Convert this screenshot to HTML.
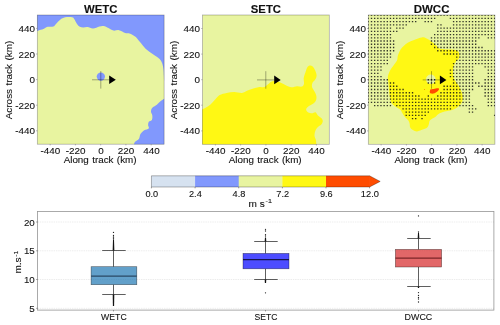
<!DOCTYPE html>
<html><head><meta charset="utf-8"><title>figure</title>
<style>
html,body{margin:0;padding:0;background:#fff;}
body{width:500px;height:325px;overflow:hidden;}
svg{display:block;font-family:"Liberation Sans",sans-serif;}
text{fill:#111;stroke:#111;stroke-width:0.1px;}
text{filter:grayscale(1);}
</style></head><body>
<svg width="500" height="325" viewBox="0 0 500 325">
<rect width="500" height="325" fill="#fff"/>
<defs>
<clipPath id="c0"><rect x="37.3" y="15.0" width="126.8" height="129.2"/></clipPath>
<clipPath id="c1"><rect x="202.4" y="15.0" width="126.9" height="129.3"/></clipPath>
<clipPath id="c2"><rect x="368.3" y="15.0" width="126.6" height="129.3"/></clipPath>
</defs>
<g clip-path="url(#c0)">
<rect x="37.3" y="15.0" width="126.8" height="129.2" fill="#e8f4a0"/>
<path d="M30.00,33.50 C31.25,33.07 35.27,31.63 37.50,30.90 C39.73,30.17 41.83,29.75 43.40,29.10 C44.97,28.45 45.27,27.42 46.90,27.00 C48.53,26.58 51.68,27.12 53.20,26.60 C54.72,26.08 54.83,25.05 56.00,23.90 C57.17,22.75 58.68,20.80 60.20,19.70 C61.72,18.60 63.12,17.72 65.10,17.30 C67.08,16.88 70.58,16.92 72.10,17.20 C73.62,17.48 73.38,17.88 74.20,19.00 C75.02,20.12 76.07,22.62 77.00,23.90 C77.93,25.18 78.75,26.12 79.80,26.70 C80.85,27.28 82.02,27.35 83.30,27.40 C84.58,27.45 85.87,26.82 87.50,27.00 C89.13,27.18 91.12,28.60 93.10,28.50 C95.08,28.40 97.65,26.82 99.40,26.40 C101.15,25.98 102.08,25.72 103.60,26.00 C105.12,26.28 106.87,27.33 108.50,28.10 C110.13,28.87 111.65,30.25 113.40,30.60 C115.15,30.95 117.02,29.80 119.00,30.20 C120.98,30.60 123.55,32.47 125.30,33.00 C127.05,33.53 127.75,32.75 129.50,33.40 C131.25,34.05 134.05,35.45 135.80,36.90 C137.55,38.35 138.37,40.13 140.00,42.10 C141.63,44.07 143.50,46.72 145.60,48.70 C147.70,50.68 150.27,52.27 152.60,54.00 C154.93,55.73 157.97,57.43 159.60,59.10 C161.23,60.77 161.75,62.25 162.40,64.00 C163.05,65.75 163.25,67.60 163.50,69.60 C163.75,71.60 163.78,74.27 163.90,76.00 C164.02,77.73 163.85,79.00 164.20,80.00 C164.55,81.00 165.70,81.67 166.00,82.00 L170,82 L170,5 L30,5 Z" fill="#8198fd"/>
<path d="M170.00,96.00 C169.05,96.45 165.88,97.83 164.30,98.70 C162.72,99.57 161.93,100.05 160.50,101.20 C159.07,102.35 157.13,104.43 155.70,105.60 C154.27,106.77 152.68,107.18 151.90,108.20 C151.12,109.22 150.93,110.48 151.00,111.70 C151.07,112.92 152.15,114.13 152.30,115.50 C152.45,116.87 152.45,118.88 151.90,119.90 C151.35,120.92 149.63,120.75 149.00,121.60 C148.37,122.45 148.15,123.87 148.10,125.00 C148.05,126.13 149.33,127.52 148.70,128.40 C148.07,129.28 145.67,129.35 144.30,130.30 C142.93,131.25 141.38,132.70 140.50,134.10 C139.62,135.50 139.95,137.37 139.00,138.70 C138.05,140.03 135.67,140.88 134.80,142.10 C133.93,143.32 134.10,144.68 133.80,146.00 C133.50,147.32 133.13,149.33 133.00,150.00 L170,150 Z" fill="#8198fd"/>
<circle cx="100.85" cy="76.6" r="4.15" fill="#8198fd"/>
</g>
<g clip-path="url(#c1)">
<rect x="202.4" y="15.0" width="126.9" height="129.3" fill="#e8f4a0"/>
<path d="M196.00,112.00 C197.07,111.55 200.73,110.03 202.40,109.30 C204.07,108.57 204.65,108.40 206.00,107.60 C207.35,106.80 208.93,105.90 210.50,104.50 C212.07,103.10 213.88,100.78 215.40,99.20 C216.92,97.62 217.73,96.05 219.60,95.00 C221.47,93.95 224.15,93.42 226.60,92.90 C229.05,92.38 231.73,91.90 234.30,91.90 C236.87,91.90 239.78,93.13 242.00,92.90 C244.22,92.67 245.27,91.37 247.60,90.50 C249.93,89.63 253.90,88.30 256.00,87.70 C258.10,87.10 258.80,87.02 260.20,86.90 C261.60,86.78 263.10,87.43 264.40,87.00 C265.70,86.57 266.88,85.18 268.00,84.30 C269.12,83.42 270.00,82.25 271.10,81.70 C272.20,81.15 273.08,80.88 274.60,81.00 C276.12,81.12 278.33,81.70 280.20,82.40 C282.07,83.10 283.93,84.38 285.80,85.20 C287.67,86.02 289.53,87.12 291.40,87.30 C293.27,87.48 295.25,86.42 297.00,86.30 C298.75,86.18 300.73,87.02 301.90,86.60 C303.07,86.18 303.70,85.20 304.00,83.80 C304.30,82.40 303.47,80.07 303.70,78.20 C303.93,76.33 304.83,74.35 305.40,72.60 C305.97,70.85 306.40,68.87 307.10,67.70 C307.80,66.53 308.72,65.83 309.60,65.60 C310.48,65.37 311.47,65.48 312.40,66.30 C313.33,67.12 314.50,68.98 315.20,70.50 C315.90,72.02 316.60,73.88 316.60,75.40 C316.60,76.92 315.90,78.32 315.20,79.60 C314.50,80.88 312.92,81.82 312.40,83.10 C311.88,84.38 311.75,85.90 312.10,87.30 C312.45,88.70 313.80,90.10 314.50,91.50 C315.20,92.90 316.03,94.28 316.30,95.70 C316.57,97.12 316.58,98.68 316.10,100.00 C315.62,101.32 314.70,102.52 313.40,103.60 C312.10,104.68 309.52,105.53 308.30,106.50 C307.08,107.47 306.15,108.43 306.10,109.40 C306.05,110.37 307.03,111.65 308.00,112.30 C308.97,112.95 310.65,113.30 311.90,113.30 C313.15,113.30 314.53,111.98 315.50,112.30 C316.47,112.62 316.73,114.23 317.70,115.20 C318.67,116.17 320.45,117.13 321.30,118.10 C322.15,119.07 322.80,119.92 322.80,121.00 C322.80,122.08 322.15,123.57 321.30,124.60 C320.45,125.63 318.67,126.23 317.70,127.20 C316.73,128.17 316.03,129.02 315.50,130.40 C314.97,131.78 314.45,133.93 314.50,135.50 C314.55,137.07 315.50,138.37 315.80,139.80 C316.10,141.23 316.18,142.40 316.30,144.10 C316.42,145.80 316.47,149.02 316.50,150.00 L190,150 L190,112 Z" fill="#fff814"/>
</g>
<g clip-path="url(#c2)">
<rect x="368.3" y="15.0" width="126.6" height="129.3" fill="#e8f4a0"/>
<path d="M421.80,37.40 C423.88,37.17 425.00,37.83 426.60,38.50 C428.20,39.17 429.80,40.25 431.40,41.40 C433.00,42.55 434.87,44.20 436.20,45.40 C437.53,46.60 437.80,47.93 439.40,48.60 C441.00,49.27 443.40,49.22 445.80,49.40 C448.20,49.58 451.80,49.43 453.80,49.70 C455.80,49.97 456.87,50.25 457.80,51.00 C458.73,51.75 459.27,52.87 459.40,54.20 C459.53,55.53 459.27,57.67 458.60,59.00 C457.93,60.33 456.25,60.87 455.40,62.20 C454.55,63.53 453.90,65.32 453.50,67.00 C453.10,68.68 452.87,70.25 453.00,72.30 C453.13,74.35 453.32,76.98 454.30,79.30 C455.28,81.62 457.57,83.70 458.90,86.20 C460.23,88.70 461.73,91.80 462.30,94.30 C462.87,96.80 463.07,99.08 462.30,101.20 C461.53,103.32 459.42,105.53 457.70,107.00 C455.98,108.47 454.20,109.23 452.00,110.00 C449.80,110.77 446.63,111.00 444.50,111.60 C442.37,112.20 440.73,112.72 439.20,113.60 C437.67,114.48 436.83,115.80 435.30,116.90 C433.77,118.00 431.10,118.88 430.00,120.20 C428.90,121.52 429.25,123.48 428.70,124.80 C428.15,126.12 427.92,127.22 426.70,128.10 C425.48,128.98 423.05,129.55 421.40,130.10 C419.75,130.65 418.22,131.40 416.80,131.40 C415.38,131.40 414.00,130.75 412.90,130.10 C411.80,129.45 410.75,128.60 410.20,127.50 C409.65,126.40 409.93,124.72 409.60,123.50 C409.27,122.28 408.98,121.30 408.20,120.20 C407.42,119.10 405.88,118.10 404.90,116.90 C403.92,115.70 403.05,114.20 402.30,113.00 C401.55,111.80 401.50,110.75 400.40,109.70 C399.30,108.65 397.18,107.82 395.70,106.70 C394.22,105.58 392.48,104.65 391.50,103.00 C390.52,101.35 390.20,98.93 389.80,96.80 C389.40,94.67 389.33,92.62 389.10,90.20 C388.87,87.78 388.62,84.50 388.40,82.30 C388.18,80.10 387.57,78.88 387.80,77.00 C388.03,75.12 388.93,72.80 389.80,71.00 C390.67,69.20 391.80,67.93 393.00,66.20 C394.20,64.47 396.20,62.33 397.00,60.60 C397.80,58.87 397.27,57.53 397.80,55.80 C398.33,54.07 399.30,51.73 400.20,50.20 C401.10,48.67 401.95,47.83 403.20,46.60 C404.45,45.37 405.88,43.92 407.70,42.80 C409.52,41.68 411.75,40.80 414.10,39.90 C416.45,39.00 419.72,37.63 421.80,37.40Z" fill="#fff814"/>
<circle cx="430.8" cy="79.3" r="4.8" fill="#e8f4a0"/>
<path d="M430.00,90.70 C430.17,90.18 430.18,89.60 430.80,89.30 C431.42,89.00 432.53,89.08 433.70,88.90 C434.87,88.72 436.90,88.18 437.80,88.20 C438.70,88.22 439.13,88.48 439.10,89.00 C439.07,89.52 438.35,90.60 437.60,91.30 C436.85,92.00 435.63,92.82 434.60,93.20 C433.57,93.58 432.20,93.73 431.40,93.60 C430.60,93.47 430.03,92.88 429.80,92.40 C429.57,91.92 429.83,91.22 430.00,90.70Z" fill="#ff4c00"/>
<circle cx="424.6" cy="89.5" r="0.45" fill="#ff4c00"/>
<path d="M367.68,14.52h1.35v1.35h-1.35zM370.83,14.52h1.35v1.35h-1.35zM373.99,14.52h1.35v1.35h-1.35zM377.15,14.52h1.35v1.35h-1.35zM380.30,14.52h1.35v1.35h-1.35zM383.46,14.52h1.35v1.35h-1.35zM386.62,14.52h1.35v1.35h-1.35zM389.77,14.52h1.35v1.35h-1.35zM392.93,14.52h1.35v1.35h-1.35zM396.09,14.52h1.35v1.35h-1.35zM399.25,14.52h1.35v1.35h-1.35zM402.40,14.52h1.35v1.35h-1.35zM405.56,14.52h1.35v1.35h-1.35zM408.72,14.52h1.35v1.35h-1.35zM411.87,14.52h1.35v1.35h-1.35zM415.03,14.52h1.35v1.35h-1.35zM418.19,14.52h1.35v1.35h-1.35zM421.34,14.52h1.35v1.35h-1.35zM424.50,14.52h1.35v1.35h-1.35zM427.66,14.52h1.35v1.35h-1.35zM430.81,14.52h1.35v1.35h-1.35zM433.97,14.52h1.35v1.35h-1.35zM437.13,14.52h1.35v1.35h-1.35zM440.29,14.52h1.35v1.35h-1.35zM443.44,14.52h1.35v1.35h-1.35zM446.60,14.52h1.35v1.35h-1.35zM449.76,14.52h1.35v1.35h-1.35zM452.91,14.52h1.35v1.35h-1.35zM456.07,14.52h1.35v1.35h-1.35zM459.23,14.52h1.35v1.35h-1.35zM462.39,14.52h1.35v1.35h-1.35zM465.54,14.52h1.35v1.35h-1.35zM468.70,14.52h1.35v1.35h-1.35zM471.86,14.52h1.35v1.35h-1.35zM475.01,14.52h1.35v1.35h-1.35zM478.17,14.52h1.35v1.35h-1.35zM481.33,14.52h1.35v1.35h-1.35zM484.48,14.52h1.35v1.35h-1.35zM487.64,14.52h1.35v1.35h-1.35zM490.80,14.52h1.35v1.35h-1.35zM493.95,14.52h1.35v1.35h-1.35zM367.68,17.75h1.35v1.35h-1.35zM370.83,17.75h1.35v1.35h-1.35zM373.99,17.75h1.35v1.35h-1.35zM377.15,17.75h1.35v1.35h-1.35zM380.30,17.75h1.35v1.35h-1.35zM383.46,17.75h1.35v1.35h-1.35zM386.62,17.75h1.35v1.35h-1.35zM389.77,17.75h1.35v1.35h-1.35zM392.93,17.75h1.35v1.35h-1.35zM396.09,17.75h1.35v1.35h-1.35zM399.25,17.75h1.35v1.35h-1.35zM402.40,17.75h1.35v1.35h-1.35zM405.56,17.75h1.35v1.35h-1.35zM408.72,17.75h1.35v1.35h-1.35zM411.87,17.75h1.35v1.35h-1.35zM415.03,17.75h1.35v1.35h-1.35zM418.19,17.75h1.35v1.35h-1.35zM421.34,17.75h1.35v1.35h-1.35zM424.50,17.75h1.35v1.35h-1.35zM427.66,17.75h1.35v1.35h-1.35zM430.81,17.75h1.35v1.35h-1.35zM433.97,17.75h1.35v1.35h-1.35zM449.76,17.75h1.35v1.35h-1.35zM452.91,17.75h1.35v1.35h-1.35zM456.07,17.75h1.35v1.35h-1.35zM459.23,17.75h1.35v1.35h-1.35zM462.39,17.75h1.35v1.35h-1.35zM465.54,17.75h1.35v1.35h-1.35zM468.70,17.75h1.35v1.35h-1.35zM471.86,17.75h1.35v1.35h-1.35zM475.01,17.75h1.35v1.35h-1.35zM478.17,17.75h1.35v1.35h-1.35zM481.33,17.75h1.35v1.35h-1.35zM484.48,17.75h1.35v1.35h-1.35zM487.64,17.75h1.35v1.35h-1.35zM490.80,17.75h1.35v1.35h-1.35zM493.95,17.75h1.35v1.35h-1.35zM367.68,20.98h1.35v1.35h-1.35zM370.83,20.98h1.35v1.35h-1.35zM373.99,20.98h1.35v1.35h-1.35zM377.15,20.98h1.35v1.35h-1.35zM380.30,20.98h1.35v1.35h-1.35zM383.46,20.98h1.35v1.35h-1.35zM386.62,20.98h1.35v1.35h-1.35zM389.77,20.98h1.35v1.35h-1.35zM392.93,20.98h1.35v1.35h-1.35zM396.09,20.98h1.35v1.35h-1.35zM399.25,20.98h1.35v1.35h-1.35zM402.40,20.98h1.35v1.35h-1.35zM405.56,20.98h1.35v1.35h-1.35zM408.72,20.98h1.35v1.35h-1.35zM411.87,20.98h1.35v1.35h-1.35zM415.03,20.98h1.35v1.35h-1.35zM424.50,20.98h1.35v1.35h-1.35zM427.66,20.98h1.35v1.35h-1.35zM430.81,20.98h1.35v1.35h-1.35zM452.91,20.98h1.35v1.35h-1.35zM456.07,20.98h1.35v1.35h-1.35zM459.23,20.98h1.35v1.35h-1.35zM462.39,20.98h1.35v1.35h-1.35zM465.54,20.98h1.35v1.35h-1.35zM468.70,20.98h1.35v1.35h-1.35zM471.86,20.98h1.35v1.35h-1.35zM475.01,20.98h1.35v1.35h-1.35zM478.17,20.98h1.35v1.35h-1.35zM481.33,20.98h1.35v1.35h-1.35zM484.48,20.98h1.35v1.35h-1.35zM487.64,20.98h1.35v1.35h-1.35zM490.80,20.98h1.35v1.35h-1.35zM493.95,20.98h1.35v1.35h-1.35zM367.68,24.21h1.35v1.35h-1.35zM370.83,24.21h1.35v1.35h-1.35zM373.99,24.21h1.35v1.35h-1.35zM377.15,24.21h1.35v1.35h-1.35zM380.30,24.21h1.35v1.35h-1.35zM383.46,24.21h1.35v1.35h-1.35zM386.62,24.21h1.35v1.35h-1.35zM389.77,24.21h1.35v1.35h-1.35zM392.93,24.21h1.35v1.35h-1.35zM396.09,24.21h1.35v1.35h-1.35zM399.25,24.21h1.35v1.35h-1.35zM402.40,24.21h1.35v1.35h-1.35zM405.56,24.21h1.35v1.35h-1.35zM437.13,24.21h1.35v1.35h-1.35zM440.29,24.21h1.35v1.35h-1.35zM452.91,24.21h1.35v1.35h-1.35zM456.07,24.21h1.35v1.35h-1.35zM459.23,24.21h1.35v1.35h-1.35zM462.39,24.21h1.35v1.35h-1.35zM465.54,24.21h1.35v1.35h-1.35zM468.70,24.21h1.35v1.35h-1.35zM471.86,24.21h1.35v1.35h-1.35zM475.01,24.21h1.35v1.35h-1.35zM478.17,24.21h1.35v1.35h-1.35zM481.33,24.21h1.35v1.35h-1.35zM484.48,24.21h1.35v1.35h-1.35zM487.64,24.21h1.35v1.35h-1.35zM490.80,24.21h1.35v1.35h-1.35zM493.95,24.21h1.35v1.35h-1.35zM367.68,27.44h1.35v1.35h-1.35zM370.83,27.44h1.35v1.35h-1.35zM373.99,27.44h1.35v1.35h-1.35zM377.15,27.44h1.35v1.35h-1.35zM380.30,27.44h1.35v1.35h-1.35zM383.46,27.44h1.35v1.35h-1.35zM386.62,27.44h1.35v1.35h-1.35zM389.77,27.44h1.35v1.35h-1.35zM396.09,27.44h1.35v1.35h-1.35zM399.25,27.44h1.35v1.35h-1.35zM402.40,27.44h1.35v1.35h-1.35zM437.13,27.44h1.35v1.35h-1.35zM440.29,27.44h1.35v1.35h-1.35zM443.44,27.44h1.35v1.35h-1.35zM446.60,27.44h1.35v1.35h-1.35zM449.76,27.44h1.35v1.35h-1.35zM452.91,27.44h1.35v1.35h-1.35zM456.07,27.44h1.35v1.35h-1.35zM459.23,27.44h1.35v1.35h-1.35zM462.39,27.44h1.35v1.35h-1.35zM465.54,27.44h1.35v1.35h-1.35zM468.70,27.44h1.35v1.35h-1.35zM471.86,27.44h1.35v1.35h-1.35zM475.01,27.44h1.35v1.35h-1.35zM478.17,27.44h1.35v1.35h-1.35zM481.33,27.44h1.35v1.35h-1.35zM484.48,27.44h1.35v1.35h-1.35zM487.64,27.44h1.35v1.35h-1.35zM490.80,27.44h1.35v1.35h-1.35zM493.95,27.44h1.35v1.35h-1.35zM367.68,30.67h1.35v1.35h-1.35zM370.83,30.67h1.35v1.35h-1.35zM373.99,30.67h1.35v1.35h-1.35zM377.15,30.67h1.35v1.35h-1.35zM380.30,30.67h1.35v1.35h-1.35zM383.46,30.67h1.35v1.35h-1.35zM386.62,30.67h1.35v1.35h-1.35zM389.77,30.67h1.35v1.35h-1.35zM392.93,30.67h1.35v1.35h-1.35zM396.09,30.67h1.35v1.35h-1.35zM437.13,30.67h1.35v1.35h-1.35zM440.29,30.67h1.35v1.35h-1.35zM443.44,30.67h1.35v1.35h-1.35zM446.60,30.67h1.35v1.35h-1.35zM449.76,30.67h1.35v1.35h-1.35zM452.91,30.67h1.35v1.35h-1.35zM456.07,30.67h1.35v1.35h-1.35zM459.23,30.67h1.35v1.35h-1.35zM462.39,30.67h1.35v1.35h-1.35zM465.54,30.67h1.35v1.35h-1.35zM468.70,30.67h1.35v1.35h-1.35zM471.86,30.67h1.35v1.35h-1.35zM475.01,30.67h1.35v1.35h-1.35zM478.17,30.67h1.35v1.35h-1.35zM481.33,30.67h1.35v1.35h-1.35zM484.48,30.67h1.35v1.35h-1.35zM487.64,30.67h1.35v1.35h-1.35zM490.80,30.67h1.35v1.35h-1.35zM493.95,30.67h1.35v1.35h-1.35zM367.68,33.91h1.35v1.35h-1.35zM370.83,33.91h1.35v1.35h-1.35zM373.99,33.91h1.35v1.35h-1.35zM377.15,33.91h1.35v1.35h-1.35zM380.30,33.91h1.35v1.35h-1.35zM383.46,33.91h1.35v1.35h-1.35zM386.62,33.91h1.35v1.35h-1.35zM389.77,33.91h1.35v1.35h-1.35zM433.97,33.91h1.35v1.35h-1.35zM437.13,33.91h1.35v1.35h-1.35zM440.29,33.91h1.35v1.35h-1.35zM443.44,33.91h1.35v1.35h-1.35zM446.60,33.91h1.35v1.35h-1.35zM449.76,33.91h1.35v1.35h-1.35zM452.91,33.91h1.35v1.35h-1.35zM456.07,33.91h1.35v1.35h-1.35zM459.23,33.91h1.35v1.35h-1.35zM462.39,33.91h1.35v1.35h-1.35zM465.54,33.91h1.35v1.35h-1.35zM468.70,33.91h1.35v1.35h-1.35zM471.86,33.91h1.35v1.35h-1.35zM475.01,33.91h1.35v1.35h-1.35zM478.17,33.91h1.35v1.35h-1.35zM481.33,33.91h1.35v1.35h-1.35zM484.48,33.91h1.35v1.35h-1.35zM487.64,33.91h1.35v1.35h-1.35zM490.80,33.91h1.35v1.35h-1.35zM493.95,33.91h1.35v1.35h-1.35zM367.68,37.14h1.35v1.35h-1.35zM370.83,37.14h1.35v1.35h-1.35zM373.99,37.14h1.35v1.35h-1.35zM377.15,37.14h1.35v1.35h-1.35zM380.30,37.14h1.35v1.35h-1.35zM383.46,37.14h1.35v1.35h-1.35zM386.62,37.14h1.35v1.35h-1.35zM389.77,37.14h1.35v1.35h-1.35zM430.81,37.14h1.35v1.35h-1.35zM433.97,37.14h1.35v1.35h-1.35zM437.13,37.14h1.35v1.35h-1.35zM440.29,37.14h1.35v1.35h-1.35zM443.44,37.14h1.35v1.35h-1.35zM446.60,37.14h1.35v1.35h-1.35zM449.76,37.14h1.35v1.35h-1.35zM452.91,37.14h1.35v1.35h-1.35zM456.07,37.14h1.35v1.35h-1.35zM459.23,37.14h1.35v1.35h-1.35zM462.39,37.14h1.35v1.35h-1.35zM465.54,37.14h1.35v1.35h-1.35zM468.70,37.14h1.35v1.35h-1.35zM471.86,37.14h1.35v1.35h-1.35zM475.01,37.14h1.35v1.35h-1.35zM478.17,37.14h1.35v1.35h-1.35zM487.64,37.14h1.35v1.35h-1.35zM490.80,37.14h1.35v1.35h-1.35zM493.95,37.14h1.35v1.35h-1.35zM367.68,40.37h1.35v1.35h-1.35zM370.83,40.37h1.35v1.35h-1.35zM373.99,40.37h1.35v1.35h-1.35zM377.15,40.37h1.35v1.35h-1.35zM380.30,40.37h1.35v1.35h-1.35zM383.46,40.37h1.35v1.35h-1.35zM386.62,40.37h1.35v1.35h-1.35zM389.77,40.37h1.35v1.35h-1.35zM392.93,40.37h1.35v1.35h-1.35zM430.81,40.37h1.35v1.35h-1.35zM433.97,40.37h1.35v1.35h-1.35zM437.13,40.37h1.35v1.35h-1.35zM440.29,40.37h1.35v1.35h-1.35zM443.44,40.37h1.35v1.35h-1.35zM446.60,40.37h1.35v1.35h-1.35zM449.76,40.37h1.35v1.35h-1.35zM452.91,40.37h1.35v1.35h-1.35zM456.07,40.37h1.35v1.35h-1.35zM459.23,40.37h1.35v1.35h-1.35zM462.39,40.37h1.35v1.35h-1.35zM465.54,40.37h1.35v1.35h-1.35zM468.70,40.37h1.35v1.35h-1.35zM471.86,40.37h1.35v1.35h-1.35zM475.01,40.37h1.35v1.35h-1.35zM367.68,43.59h1.35v1.35h-1.35zM370.83,43.59h1.35v1.35h-1.35zM373.99,43.59h1.35v1.35h-1.35zM377.15,43.59h1.35v1.35h-1.35zM380.30,43.59h1.35v1.35h-1.35zM383.46,43.59h1.35v1.35h-1.35zM386.62,43.59h1.35v1.35h-1.35zM389.77,43.59h1.35v1.35h-1.35zM392.93,43.59h1.35v1.35h-1.35zM430.81,43.59h1.35v1.35h-1.35zM433.97,43.59h1.35v1.35h-1.35zM437.13,43.59h1.35v1.35h-1.35zM440.29,43.59h1.35v1.35h-1.35zM443.44,43.59h1.35v1.35h-1.35zM446.60,43.59h1.35v1.35h-1.35zM449.76,43.59h1.35v1.35h-1.35zM452.91,43.59h1.35v1.35h-1.35zM456.07,43.59h1.35v1.35h-1.35zM459.23,43.59h1.35v1.35h-1.35zM462.39,43.59h1.35v1.35h-1.35zM465.54,43.59h1.35v1.35h-1.35zM468.70,43.59h1.35v1.35h-1.35zM471.86,43.59h1.35v1.35h-1.35zM475.01,43.59h1.35v1.35h-1.35zM367.68,46.83h1.35v1.35h-1.35zM370.83,46.83h1.35v1.35h-1.35zM373.99,46.83h1.35v1.35h-1.35zM377.15,46.83h1.35v1.35h-1.35zM380.30,46.83h1.35v1.35h-1.35zM383.46,46.83h1.35v1.35h-1.35zM386.62,46.83h1.35v1.35h-1.35zM389.77,46.83h1.35v1.35h-1.35zM392.93,46.83h1.35v1.35h-1.35zM433.97,46.83h1.35v1.35h-1.35zM437.13,46.83h1.35v1.35h-1.35zM440.29,46.83h1.35v1.35h-1.35zM443.44,46.83h1.35v1.35h-1.35zM446.60,46.83h1.35v1.35h-1.35zM449.76,46.83h1.35v1.35h-1.35zM452.91,46.83h1.35v1.35h-1.35zM456.07,46.83h1.35v1.35h-1.35zM459.23,46.83h1.35v1.35h-1.35zM462.39,46.83h1.35v1.35h-1.35zM465.54,46.83h1.35v1.35h-1.35zM468.70,46.83h1.35v1.35h-1.35zM471.86,46.83h1.35v1.35h-1.35zM475.01,46.83h1.35v1.35h-1.35zM478.17,46.83h1.35v1.35h-1.35zM481.33,46.83h1.35v1.35h-1.35zM367.68,50.06h1.35v1.35h-1.35zM370.83,50.06h1.35v1.35h-1.35zM373.99,50.06h1.35v1.35h-1.35zM377.15,50.06h1.35v1.35h-1.35zM380.30,50.06h1.35v1.35h-1.35zM383.46,50.06h1.35v1.35h-1.35zM386.62,50.06h1.35v1.35h-1.35zM389.77,50.06h1.35v1.35h-1.35zM392.93,50.06h1.35v1.35h-1.35zM437.13,50.06h1.35v1.35h-1.35zM440.29,50.06h1.35v1.35h-1.35zM443.44,50.06h1.35v1.35h-1.35zM446.60,50.06h1.35v1.35h-1.35zM449.76,50.06h1.35v1.35h-1.35zM452.91,50.06h1.35v1.35h-1.35zM456.07,50.06h1.35v1.35h-1.35zM459.23,50.06h1.35v1.35h-1.35zM462.39,50.06h1.35v1.35h-1.35zM465.54,50.06h1.35v1.35h-1.35zM468.70,50.06h1.35v1.35h-1.35zM471.86,50.06h1.35v1.35h-1.35zM475.01,50.06h1.35v1.35h-1.35zM478.17,50.06h1.35v1.35h-1.35zM481.33,50.06h1.35v1.35h-1.35zM484.48,50.06h1.35v1.35h-1.35zM487.64,50.06h1.35v1.35h-1.35zM490.80,50.06h1.35v1.35h-1.35zM493.95,50.06h1.35v1.35h-1.35zM367.68,53.28h1.35v1.35h-1.35zM370.83,53.28h1.35v1.35h-1.35zM373.99,53.28h1.35v1.35h-1.35zM377.15,53.28h1.35v1.35h-1.35zM380.30,53.28h1.35v1.35h-1.35zM383.46,53.28h1.35v1.35h-1.35zM386.62,53.28h1.35v1.35h-1.35zM389.77,53.28h1.35v1.35h-1.35zM443.44,53.28h1.35v1.35h-1.35zM446.60,53.28h1.35v1.35h-1.35zM449.76,53.28h1.35v1.35h-1.35zM452.91,53.28h1.35v1.35h-1.35zM456.07,53.28h1.35v1.35h-1.35zM459.23,53.28h1.35v1.35h-1.35zM462.39,53.28h1.35v1.35h-1.35zM465.54,53.28h1.35v1.35h-1.35zM468.70,53.28h1.35v1.35h-1.35zM471.86,53.28h1.35v1.35h-1.35zM475.01,53.28h1.35v1.35h-1.35zM478.17,53.28h1.35v1.35h-1.35zM481.33,53.28h1.35v1.35h-1.35zM484.48,53.28h1.35v1.35h-1.35zM487.64,53.28h1.35v1.35h-1.35zM490.80,53.28h1.35v1.35h-1.35zM493.95,53.28h1.35v1.35h-1.35zM367.68,56.52h1.35v1.35h-1.35zM370.83,56.52h1.35v1.35h-1.35zM373.99,56.52h1.35v1.35h-1.35zM377.15,56.52h1.35v1.35h-1.35zM380.30,56.52h1.35v1.35h-1.35zM383.46,56.52h1.35v1.35h-1.35zM386.62,56.52h1.35v1.35h-1.35zM389.77,56.52h1.35v1.35h-1.35zM456.07,56.52h1.35v1.35h-1.35zM459.23,56.52h1.35v1.35h-1.35zM462.39,56.52h1.35v1.35h-1.35zM465.54,56.52h1.35v1.35h-1.35zM468.70,56.52h1.35v1.35h-1.35zM471.86,56.52h1.35v1.35h-1.35zM475.01,56.52h1.35v1.35h-1.35zM478.17,56.52h1.35v1.35h-1.35zM481.33,56.52h1.35v1.35h-1.35zM484.48,56.52h1.35v1.35h-1.35zM487.64,56.52h1.35v1.35h-1.35zM490.80,56.52h1.35v1.35h-1.35zM493.95,56.52h1.35v1.35h-1.35zM367.68,59.75h1.35v1.35h-1.35zM370.83,59.75h1.35v1.35h-1.35zM373.99,59.75h1.35v1.35h-1.35zM377.15,59.75h1.35v1.35h-1.35zM380.30,59.75h1.35v1.35h-1.35zM383.46,59.75h1.35v1.35h-1.35zM386.62,59.75h1.35v1.35h-1.35zM456.07,59.75h1.35v1.35h-1.35zM459.23,59.75h1.35v1.35h-1.35zM462.39,59.75h1.35v1.35h-1.35zM465.54,59.75h1.35v1.35h-1.35zM468.70,59.75h1.35v1.35h-1.35zM471.86,59.75h1.35v1.35h-1.35zM475.01,59.75h1.35v1.35h-1.35zM478.17,59.75h1.35v1.35h-1.35zM481.33,59.75h1.35v1.35h-1.35zM484.48,59.75h1.35v1.35h-1.35zM487.64,59.75h1.35v1.35h-1.35zM490.80,59.75h1.35v1.35h-1.35zM493.95,59.75h1.35v1.35h-1.35zM367.68,62.98h1.35v1.35h-1.35zM370.83,62.98h1.35v1.35h-1.35zM373.99,62.98h1.35v1.35h-1.35zM377.15,62.98h1.35v1.35h-1.35zM380.30,62.98h1.35v1.35h-1.35zM383.46,62.98h1.35v1.35h-1.35zM386.62,62.98h1.35v1.35h-1.35zM452.91,62.98h1.35v1.35h-1.35zM456.07,62.98h1.35v1.35h-1.35zM459.23,62.98h1.35v1.35h-1.35zM462.39,62.98h1.35v1.35h-1.35zM465.54,62.98h1.35v1.35h-1.35zM468.70,62.98h1.35v1.35h-1.35zM471.86,62.98h1.35v1.35h-1.35zM475.01,62.98h1.35v1.35h-1.35zM478.17,62.98h1.35v1.35h-1.35zM481.33,62.98h1.35v1.35h-1.35zM484.48,62.98h1.35v1.35h-1.35zM487.64,62.98h1.35v1.35h-1.35zM490.80,62.98h1.35v1.35h-1.35zM493.95,62.98h1.35v1.35h-1.35zM367.68,66.20h1.35v1.35h-1.35zM370.83,66.20h1.35v1.35h-1.35zM373.99,66.20h1.35v1.35h-1.35zM377.15,66.20h1.35v1.35h-1.35zM380.30,66.20h1.35v1.35h-1.35zM452.91,66.20h1.35v1.35h-1.35zM456.07,66.20h1.35v1.35h-1.35zM459.23,66.20h1.35v1.35h-1.35zM462.39,66.20h1.35v1.35h-1.35zM465.54,66.20h1.35v1.35h-1.35zM468.70,66.20h1.35v1.35h-1.35zM471.86,66.20h1.35v1.35h-1.35zM484.48,66.20h1.35v1.35h-1.35zM487.64,66.20h1.35v1.35h-1.35zM490.80,66.20h1.35v1.35h-1.35zM493.95,66.20h1.35v1.35h-1.35zM367.68,69.44h1.35v1.35h-1.35zM370.83,69.44h1.35v1.35h-1.35zM373.99,69.44h1.35v1.35h-1.35zM377.15,69.44h1.35v1.35h-1.35zM380.30,69.44h1.35v1.35h-1.35zM449.76,69.44h1.35v1.35h-1.35zM452.91,69.44h1.35v1.35h-1.35zM456.07,69.44h1.35v1.35h-1.35zM459.23,69.44h1.35v1.35h-1.35zM462.39,69.44h1.35v1.35h-1.35zM465.54,69.44h1.35v1.35h-1.35zM468.70,69.44h1.35v1.35h-1.35zM471.86,69.44h1.35v1.35h-1.35zM487.64,69.44h1.35v1.35h-1.35zM490.80,69.44h1.35v1.35h-1.35zM493.95,69.44h1.35v1.35h-1.35zM367.68,72.67h1.35v1.35h-1.35zM370.83,72.67h1.35v1.35h-1.35zM373.99,72.67h1.35v1.35h-1.35zM377.15,72.67h1.35v1.35h-1.35zM449.76,72.67h1.35v1.35h-1.35zM452.91,72.67h1.35v1.35h-1.35zM456.07,72.67h1.35v1.35h-1.35zM459.23,72.67h1.35v1.35h-1.35zM462.39,72.67h1.35v1.35h-1.35zM465.54,72.67h1.35v1.35h-1.35zM468.70,72.67h1.35v1.35h-1.35zM471.86,72.67h1.35v1.35h-1.35zM487.64,72.67h1.35v1.35h-1.35zM490.80,72.67h1.35v1.35h-1.35zM493.95,72.67h1.35v1.35h-1.35zM367.68,75.89h1.35v1.35h-1.35zM370.83,75.89h1.35v1.35h-1.35zM373.99,75.89h1.35v1.35h-1.35zM377.15,75.89h1.35v1.35h-1.35zM380.30,75.89h1.35v1.35h-1.35zM449.76,75.89h1.35v1.35h-1.35zM452.91,75.89h1.35v1.35h-1.35zM456.07,75.89h1.35v1.35h-1.35zM459.23,75.89h1.35v1.35h-1.35zM462.39,75.89h1.35v1.35h-1.35zM465.54,75.89h1.35v1.35h-1.35zM468.70,75.89h1.35v1.35h-1.35zM471.86,75.89h1.35v1.35h-1.35zM487.64,75.89h1.35v1.35h-1.35zM490.80,75.89h1.35v1.35h-1.35zM493.95,75.89h1.35v1.35h-1.35zM367.68,79.12h1.35v1.35h-1.35zM370.83,79.12h1.35v1.35h-1.35zM373.99,79.12h1.35v1.35h-1.35zM377.15,79.12h1.35v1.35h-1.35zM380.30,79.12h1.35v1.35h-1.35zM383.46,79.12h1.35v1.35h-1.35zM386.62,79.12h1.35v1.35h-1.35zM427.66,79.12h1.35v1.35h-1.35zM430.81,79.12h1.35v1.35h-1.35zM433.97,79.12h1.35v1.35h-1.35zM452.91,79.12h1.35v1.35h-1.35zM456.07,79.12h1.35v1.35h-1.35zM459.23,79.12h1.35v1.35h-1.35zM462.39,79.12h1.35v1.35h-1.35zM465.54,79.12h1.35v1.35h-1.35zM468.70,79.12h1.35v1.35h-1.35zM471.86,79.12h1.35v1.35h-1.35zM484.48,79.12h1.35v1.35h-1.35zM487.64,79.12h1.35v1.35h-1.35zM490.80,79.12h1.35v1.35h-1.35zM493.95,79.12h1.35v1.35h-1.35zM367.68,82.36h1.35v1.35h-1.35zM370.83,82.36h1.35v1.35h-1.35zM373.99,82.36h1.35v1.35h-1.35zM377.15,82.36h1.35v1.35h-1.35zM380.30,82.36h1.35v1.35h-1.35zM383.46,82.36h1.35v1.35h-1.35zM386.62,82.36h1.35v1.35h-1.35zM389.77,82.36h1.35v1.35h-1.35zM392.93,82.36h1.35v1.35h-1.35zM427.66,82.36h1.35v1.35h-1.35zM430.81,82.36h1.35v1.35h-1.35zM433.97,82.36h1.35v1.35h-1.35zM452.91,82.36h1.35v1.35h-1.35zM456.07,82.36h1.35v1.35h-1.35zM459.23,82.36h1.35v1.35h-1.35zM462.39,82.36h1.35v1.35h-1.35zM465.54,82.36h1.35v1.35h-1.35zM468.70,82.36h1.35v1.35h-1.35zM471.86,82.36h1.35v1.35h-1.35zM475.01,82.36h1.35v1.35h-1.35zM478.17,82.36h1.35v1.35h-1.35zM484.48,82.36h1.35v1.35h-1.35zM487.64,82.36h1.35v1.35h-1.35zM490.80,82.36h1.35v1.35h-1.35zM493.95,82.36h1.35v1.35h-1.35zM367.68,85.59h1.35v1.35h-1.35zM370.83,85.59h1.35v1.35h-1.35zM373.99,85.59h1.35v1.35h-1.35zM377.15,85.59h1.35v1.35h-1.35zM380.30,85.59h1.35v1.35h-1.35zM383.46,85.59h1.35v1.35h-1.35zM386.62,85.59h1.35v1.35h-1.35zM389.77,85.59h1.35v1.35h-1.35zM392.93,85.59h1.35v1.35h-1.35zM396.09,85.59h1.35v1.35h-1.35zM443.44,85.59h1.35v1.35h-1.35zM446.60,85.59h1.35v1.35h-1.35zM449.76,85.59h1.35v1.35h-1.35zM452.91,85.59h1.35v1.35h-1.35zM456.07,85.59h1.35v1.35h-1.35zM459.23,85.59h1.35v1.35h-1.35zM462.39,85.59h1.35v1.35h-1.35zM465.54,85.59h1.35v1.35h-1.35zM468.70,85.59h1.35v1.35h-1.35zM471.86,85.59h1.35v1.35h-1.35zM478.17,85.59h1.35v1.35h-1.35zM481.33,85.59h1.35v1.35h-1.35zM484.48,85.59h1.35v1.35h-1.35zM487.64,85.59h1.35v1.35h-1.35zM490.80,85.59h1.35v1.35h-1.35zM493.95,85.59h1.35v1.35h-1.35zM367.68,88.82h1.35v1.35h-1.35zM370.83,88.82h1.35v1.35h-1.35zM373.99,88.82h1.35v1.35h-1.35zM377.15,88.82h1.35v1.35h-1.35zM380.30,88.82h1.35v1.35h-1.35zM383.46,88.82h1.35v1.35h-1.35zM386.62,88.82h1.35v1.35h-1.35zM389.77,88.82h1.35v1.35h-1.35zM392.93,88.82h1.35v1.35h-1.35zM396.09,88.82h1.35v1.35h-1.35zM399.25,88.82h1.35v1.35h-1.35zM402.40,88.82h1.35v1.35h-1.35zM443.44,88.82h1.35v1.35h-1.35zM446.60,88.82h1.35v1.35h-1.35zM449.76,88.82h1.35v1.35h-1.35zM452.91,88.82h1.35v1.35h-1.35zM456.07,88.82h1.35v1.35h-1.35zM459.23,88.82h1.35v1.35h-1.35zM462.39,88.82h1.35v1.35h-1.35zM465.54,88.82h1.35v1.35h-1.35zM468.70,88.82h1.35v1.35h-1.35zM471.86,88.82h1.35v1.35h-1.35zM484.48,88.82h1.35v1.35h-1.35zM487.64,88.82h1.35v1.35h-1.35zM490.80,88.82h1.35v1.35h-1.35zM493.95,88.82h1.35v1.35h-1.35zM367.68,92.05h1.35v1.35h-1.35zM370.83,92.05h1.35v1.35h-1.35zM373.99,92.05h1.35v1.35h-1.35zM377.15,92.05h1.35v1.35h-1.35zM380.30,92.05h1.35v1.35h-1.35zM383.46,92.05h1.35v1.35h-1.35zM386.62,92.05h1.35v1.35h-1.35zM389.77,92.05h1.35v1.35h-1.35zM392.93,92.05h1.35v1.35h-1.35zM396.09,92.05h1.35v1.35h-1.35zM399.25,92.05h1.35v1.35h-1.35zM402.40,92.05h1.35v1.35h-1.35zM405.56,92.05h1.35v1.35h-1.35zM408.72,92.05h1.35v1.35h-1.35zM411.87,92.05h1.35v1.35h-1.35zM440.29,92.05h1.35v1.35h-1.35zM443.44,92.05h1.35v1.35h-1.35zM446.60,92.05h1.35v1.35h-1.35zM449.76,92.05h1.35v1.35h-1.35zM452.91,92.05h1.35v1.35h-1.35zM456.07,92.05h1.35v1.35h-1.35zM459.23,92.05h1.35v1.35h-1.35zM462.39,92.05h1.35v1.35h-1.35zM465.54,92.05h1.35v1.35h-1.35zM468.70,92.05h1.35v1.35h-1.35zM484.48,92.05h1.35v1.35h-1.35zM487.64,92.05h1.35v1.35h-1.35zM490.80,92.05h1.35v1.35h-1.35zM493.95,92.05h1.35v1.35h-1.35zM367.68,95.28h1.35v1.35h-1.35zM370.83,95.28h1.35v1.35h-1.35zM373.99,95.28h1.35v1.35h-1.35zM377.15,95.28h1.35v1.35h-1.35zM380.30,95.28h1.35v1.35h-1.35zM383.46,95.28h1.35v1.35h-1.35zM386.62,95.28h1.35v1.35h-1.35zM389.77,95.28h1.35v1.35h-1.35zM392.93,95.28h1.35v1.35h-1.35zM396.09,95.28h1.35v1.35h-1.35zM399.25,95.28h1.35v1.35h-1.35zM402.40,95.28h1.35v1.35h-1.35zM405.56,95.28h1.35v1.35h-1.35zM408.72,95.28h1.35v1.35h-1.35zM411.87,95.28h1.35v1.35h-1.35zM415.03,95.28h1.35v1.35h-1.35zM418.19,95.28h1.35v1.35h-1.35zM427.66,95.28h1.35v1.35h-1.35zM437.13,95.28h1.35v1.35h-1.35zM440.29,95.28h1.35v1.35h-1.35zM443.44,95.28h1.35v1.35h-1.35zM446.60,95.28h1.35v1.35h-1.35zM449.76,95.28h1.35v1.35h-1.35zM452.91,95.28h1.35v1.35h-1.35zM456.07,95.28h1.35v1.35h-1.35zM459.23,95.28h1.35v1.35h-1.35zM462.39,95.28h1.35v1.35h-1.35zM465.54,95.28h1.35v1.35h-1.35zM468.70,95.28h1.35v1.35h-1.35zM484.48,95.28h1.35v1.35h-1.35zM487.64,95.28h1.35v1.35h-1.35zM490.80,95.28h1.35v1.35h-1.35zM493.95,95.28h1.35v1.35h-1.35zM367.68,98.51h1.35v1.35h-1.35zM370.83,98.51h1.35v1.35h-1.35zM373.99,98.51h1.35v1.35h-1.35zM377.15,98.51h1.35v1.35h-1.35zM380.30,98.51h1.35v1.35h-1.35zM383.46,98.51h1.35v1.35h-1.35zM386.62,98.51h1.35v1.35h-1.35zM389.77,98.51h1.35v1.35h-1.35zM392.93,98.51h1.35v1.35h-1.35zM396.09,98.51h1.35v1.35h-1.35zM399.25,98.51h1.35v1.35h-1.35zM402.40,98.51h1.35v1.35h-1.35zM405.56,98.51h1.35v1.35h-1.35zM408.72,98.51h1.35v1.35h-1.35zM411.87,98.51h1.35v1.35h-1.35zM415.03,98.51h1.35v1.35h-1.35zM418.19,98.51h1.35v1.35h-1.35zM421.34,98.51h1.35v1.35h-1.35zM424.50,98.51h1.35v1.35h-1.35zM427.66,98.51h1.35v1.35h-1.35zM430.81,98.51h1.35v1.35h-1.35zM433.97,98.51h1.35v1.35h-1.35zM437.13,98.51h1.35v1.35h-1.35zM440.29,98.51h1.35v1.35h-1.35zM443.44,98.51h1.35v1.35h-1.35zM446.60,98.51h1.35v1.35h-1.35zM449.76,98.51h1.35v1.35h-1.35zM452.91,98.51h1.35v1.35h-1.35zM456.07,98.51h1.35v1.35h-1.35zM459.23,98.51h1.35v1.35h-1.35zM462.39,98.51h1.35v1.35h-1.35zM465.54,98.51h1.35v1.35h-1.35zM468.70,98.51h1.35v1.35h-1.35zM487.64,98.51h1.35v1.35h-1.35zM490.80,98.51h1.35v1.35h-1.35zM493.95,98.51h1.35v1.35h-1.35zM367.68,101.73h1.35v1.35h-1.35zM370.83,101.73h1.35v1.35h-1.35zM373.99,101.73h1.35v1.35h-1.35zM377.15,101.73h1.35v1.35h-1.35zM380.30,101.73h1.35v1.35h-1.35zM383.46,101.73h1.35v1.35h-1.35zM386.62,101.73h1.35v1.35h-1.35zM389.77,101.73h1.35v1.35h-1.35zM392.93,101.73h1.35v1.35h-1.35zM396.09,101.73h1.35v1.35h-1.35zM399.25,101.73h1.35v1.35h-1.35zM402.40,101.73h1.35v1.35h-1.35zM405.56,101.73h1.35v1.35h-1.35zM408.72,101.73h1.35v1.35h-1.35zM411.87,101.73h1.35v1.35h-1.35zM415.03,101.73h1.35v1.35h-1.35zM418.19,101.73h1.35v1.35h-1.35zM421.34,101.73h1.35v1.35h-1.35zM424.50,101.73h1.35v1.35h-1.35zM427.66,101.73h1.35v1.35h-1.35zM430.81,101.73h1.35v1.35h-1.35zM433.97,101.73h1.35v1.35h-1.35zM437.13,101.73h1.35v1.35h-1.35zM440.29,101.73h1.35v1.35h-1.35zM443.44,101.73h1.35v1.35h-1.35zM446.60,101.73h1.35v1.35h-1.35zM449.76,101.73h1.35v1.35h-1.35zM452.91,101.73h1.35v1.35h-1.35zM456.07,101.73h1.35v1.35h-1.35zM459.23,101.73h1.35v1.35h-1.35zM462.39,101.73h1.35v1.35h-1.35zM465.54,101.73h1.35v1.35h-1.35zM468.70,101.73h1.35v1.35h-1.35zM487.64,101.73h1.35v1.35h-1.35zM490.80,101.73h1.35v1.35h-1.35zM493.95,101.73h1.35v1.35h-1.35zM373.99,104.97h1.35v1.35h-1.35zM377.15,104.97h1.35v1.35h-1.35zM380.30,104.97h1.35v1.35h-1.35zM383.46,104.97h1.35v1.35h-1.35zM386.62,104.97h1.35v1.35h-1.35zM389.77,104.97h1.35v1.35h-1.35zM396.09,104.97h1.35v1.35h-1.35zM399.25,104.97h1.35v1.35h-1.35zM402.40,104.97h1.35v1.35h-1.35zM405.56,104.97h1.35v1.35h-1.35zM408.72,104.97h1.35v1.35h-1.35zM411.87,104.97h1.35v1.35h-1.35zM415.03,104.97h1.35v1.35h-1.35zM418.19,104.97h1.35v1.35h-1.35zM421.34,104.97h1.35v1.35h-1.35zM424.50,104.97h1.35v1.35h-1.35zM427.66,104.97h1.35v1.35h-1.35zM430.81,104.97h1.35v1.35h-1.35zM433.97,104.97h1.35v1.35h-1.35zM437.13,104.97h1.35v1.35h-1.35zM440.29,104.97h1.35v1.35h-1.35zM443.44,104.97h1.35v1.35h-1.35zM446.60,104.97h1.35v1.35h-1.35zM449.76,104.97h1.35v1.35h-1.35zM452.91,104.97h1.35v1.35h-1.35zM456.07,104.97h1.35v1.35h-1.35zM459.23,104.97h1.35v1.35h-1.35zM462.39,104.97h1.35v1.35h-1.35zM465.54,104.97h1.35v1.35h-1.35zM468.70,104.97h1.35v1.35h-1.35zM471.86,104.97h1.35v1.35h-1.35zM487.64,104.97h1.35v1.35h-1.35zM490.80,104.97h1.35v1.35h-1.35zM493.95,104.97h1.35v1.35h-1.35zM402.40,108.20h1.35v1.35h-1.35zM405.56,108.20h1.35v1.35h-1.35zM408.72,108.20h1.35v1.35h-1.35zM411.87,108.20h1.35v1.35h-1.35zM415.03,108.20h1.35v1.35h-1.35zM418.19,108.20h1.35v1.35h-1.35zM421.34,108.20h1.35v1.35h-1.35zM424.50,108.20h1.35v1.35h-1.35zM427.66,108.20h1.35v1.35h-1.35zM430.81,108.20h1.35v1.35h-1.35zM433.97,108.20h1.35v1.35h-1.35zM437.13,108.20h1.35v1.35h-1.35zM440.29,108.20h1.35v1.35h-1.35zM443.44,108.20h1.35v1.35h-1.35zM446.60,108.20h1.35v1.35h-1.35zM449.76,108.20h1.35v1.35h-1.35zM468.70,108.20h1.35v1.35h-1.35zM471.86,108.20h1.35v1.35h-1.35zM475.01,108.20h1.35v1.35h-1.35zM405.56,111.43h1.35v1.35h-1.35zM408.72,111.43h1.35v1.35h-1.35zM411.87,111.43h1.35v1.35h-1.35zM415.03,111.43h1.35v1.35h-1.35zM418.19,111.43h1.35v1.35h-1.35zM421.34,111.43h1.35v1.35h-1.35zM424.50,111.43h1.35v1.35h-1.35zM427.66,111.43h1.35v1.35h-1.35zM468.70,111.43h1.35v1.35h-1.35zM471.86,111.43h1.35v1.35h-1.35zM405.56,114.66h1.35v1.35h-1.35zM408.72,114.66h1.35v1.35h-1.35zM411.87,114.66h1.35v1.35h-1.35zM415.03,114.66h1.35v1.35h-1.35zM418.19,114.66h1.35v1.35h-1.35zM421.34,114.66h1.35v1.35h-1.35zM424.50,114.66h1.35v1.35h-1.35zM493.95,114.66h1.35v1.35h-1.35zM411.87,117.89h1.35v1.35h-1.35zM415.03,117.89h1.35v1.35h-1.35zM421.34,117.89h1.35v1.35h-1.35z" fill="#111" fill-opacity="0.84"/>
</g>
<path d="M92.0,79.8H109.4M100.8,71.1V88.6" stroke="#000" stroke-opacity="0.34" stroke-width="0.95" fill="none"/>
<path d="M109.2,75.5L115.8,79.8L109.2,84.1Z" fill="#000"/>
<rect x="37.3" y="15.0" width="126.8" height="129.2" fill="none" stroke="#000" stroke-opacity="0.35" stroke-width="0.7"/>
<text x="100.7" y="12.7" font-size="10.3" text-anchor="middle" font-weight="bold" textLength="33.5" lengthAdjust="spacingAndGlyphs" >WETC</text>
<path d="M50.2,144.2v1.1M37.3,130.8h-1.1" stroke="#777" stroke-width="0.6" fill="none"/>
<text x="50.4" y="154.0" font-size="9.6" text-anchor="middle" font-weight="normal" textLength="19.8" lengthAdjust="spacingAndGlyphs" >-440</text>
<text x="35.0" y="134.3" font-size="9.6" text-anchor="end" font-weight="normal" textLength="19.8" lengthAdjust="spacingAndGlyphs" >-440</text>
<path d="M75.4,144.2v1.1M37.3,105.2h-1.1" stroke="#777" stroke-width="0.6" fill="none"/>
<text x="75.6" y="154.0" font-size="9.6" text-anchor="middle" font-weight="normal" textLength="19.8" lengthAdjust="spacingAndGlyphs" >-220</text>
<text x="35.0" y="108.7" font-size="9.6" text-anchor="end" font-weight="normal" textLength="19.8" lengthAdjust="spacingAndGlyphs" >-220</text>
<path d="M100.7,144.2v1.1M37.3,79.6h-1.1" stroke="#777" stroke-width="0.6" fill="none"/>
<text x="100.9" y="154.0" font-size="9.6" text-anchor="middle" font-weight="normal" textLength="5.5" lengthAdjust="spacingAndGlyphs" >0</text>
<text x="35.0" y="83.1" font-size="9.6" text-anchor="end" font-weight="normal" textLength="5.5" lengthAdjust="spacingAndGlyphs" >0</text>
<path d="M125.9,144.2v1.1M37.3,54.0h-1.1" stroke="#777" stroke-width="0.6" fill="none"/>
<text x="126.1" y="154.0" font-size="9.6" text-anchor="middle" font-weight="normal" textLength="16.5" lengthAdjust="spacingAndGlyphs" >220</text>
<text x="35.0" y="57.5" font-size="9.6" text-anchor="end" font-weight="normal" textLength="16.5" lengthAdjust="spacingAndGlyphs" >220</text>
<path d="M151.2,144.2v1.1M37.3,28.4h-1.1" stroke="#777" stroke-width="0.6" fill="none"/>
<text x="151.4" y="154.0" font-size="9.6" text-anchor="middle" font-weight="normal" textLength="16.5" lengthAdjust="spacingAndGlyphs" >440</text>
<text x="35.0" y="31.9" font-size="9.6" text-anchor="end" font-weight="normal" textLength="16.5" lengthAdjust="spacingAndGlyphs" >440</text>
<text x="100.1" y="163.4" font-size="9.1" text-anchor="middle" font-weight="normal" textLength="72.9" lengthAdjust="spacingAndGlyphs" word-spacing="0.6">Along track (km)</text>
<text transform="translate(12.0,80.0) rotate(-90)" font-size="9.1" word-spacing="0.6" text-anchor="middle" textLength="78.6" lengthAdjust="spacingAndGlyphs">Across track (km)</text>
<path d="M257.0,79.9H274.4M265.8,71.2V88.7" stroke="#000" stroke-opacity="0.34" stroke-width="0.95" fill="none"/>
<path d="M274.2,75.6L280.7,79.9L274.2,84.2Z" fill="#000"/>
<rect x="202.4" y="15.0" width="126.9" height="129.3" fill="none" stroke="#000" stroke-opacity="0.35" stroke-width="0.7"/>
<text x="265.9" y="12.7" font-size="10.3" text-anchor="middle" font-weight="bold" textLength="30.2" lengthAdjust="spacingAndGlyphs" >SETC</text>
<path d="M215.4,144.3v1.1M202.4,130.9h-1.1" stroke="#777" stroke-width="0.6" fill="none"/>
<text x="215.6" y="154.0" font-size="9.6" text-anchor="middle" font-weight="normal" textLength="19.8" lengthAdjust="spacingAndGlyphs" >-440</text>
<text x="200.1" y="134.4" font-size="9.6" text-anchor="end" font-weight="normal" textLength="19.8" lengthAdjust="spacingAndGlyphs" >-440</text>
<path d="M240.6,144.3v1.1M202.4,105.2h-1.1" stroke="#777" stroke-width="0.6" fill="none"/>
<text x="240.8" y="154.0" font-size="9.6" text-anchor="middle" font-weight="normal" textLength="19.8" lengthAdjust="spacingAndGlyphs" >-220</text>
<text x="200.1" y="108.8" font-size="9.6" text-anchor="end" font-weight="normal" textLength="19.8" lengthAdjust="spacingAndGlyphs" >-220</text>
<path d="M265.9,144.3v1.1M202.4,79.7h-1.1" stroke="#777" stroke-width="0.6" fill="none"/>
<text x="266.1" y="154.0" font-size="9.6" text-anchor="middle" font-weight="normal" textLength="5.5" lengthAdjust="spacingAndGlyphs" >0</text>
<text x="200.1" y="83.2" font-size="9.6" text-anchor="end" font-weight="normal" textLength="5.5" lengthAdjust="spacingAndGlyphs" >0</text>
<path d="M291.1,144.3v1.1M202.4,54.1h-1.1" stroke="#777" stroke-width="0.6" fill="none"/>
<text x="291.3" y="154.0" font-size="9.6" text-anchor="middle" font-weight="normal" textLength="16.5" lengthAdjust="spacingAndGlyphs" >220</text>
<text x="200.1" y="57.6" font-size="9.6" text-anchor="end" font-weight="normal" textLength="16.5" lengthAdjust="spacingAndGlyphs" >220</text>
<path d="M316.4,144.3v1.1M202.4,28.5h-1.1" stroke="#777" stroke-width="0.6" fill="none"/>
<text x="316.6" y="154.0" font-size="9.6" text-anchor="middle" font-weight="normal" textLength="16.5" lengthAdjust="spacingAndGlyphs" >440</text>
<text x="200.1" y="32.0" font-size="9.6" text-anchor="end" font-weight="normal" textLength="16.5" lengthAdjust="spacingAndGlyphs" >440</text>
<text x="265.2" y="163.4" font-size="9.1" text-anchor="middle" font-weight="normal" textLength="72.9" lengthAdjust="spacingAndGlyphs" word-spacing="0.6">Along track (km)</text>
<text transform="translate(177.1,80.0) rotate(-90)" font-size="9.1" word-spacing="0.6" text-anchor="middle" textLength="78.6" lengthAdjust="spacingAndGlyphs">Across track (km)</text>
<path d="M422.7,79.9H440.1M431.5,71.2V88.7" stroke="#000" stroke-opacity="0.34" stroke-width="0.95" fill="none"/>
<path d="M439.9,75.6L446.4,79.9L439.9,84.2Z" fill="#000"/>
<rect x="368.3" y="15.0" width="126.6" height="129.3" fill="none" stroke="#000" stroke-opacity="0.35" stroke-width="0.7"/>
<text x="431.6" y="12.7" font-size="10.3" text-anchor="middle" font-weight="bold" textLength="35.8" lengthAdjust="spacingAndGlyphs" >DWCC</text>
<path d="M381.1,144.3v1.1M368.3,130.9h-1.1" stroke="#777" stroke-width="0.6" fill="none"/>
<text x="381.3" y="154.0" font-size="9.6" text-anchor="middle" font-weight="normal" textLength="19.8" lengthAdjust="spacingAndGlyphs" >-440</text>
<text x="366.0" y="134.4" font-size="9.6" text-anchor="end" font-weight="normal" textLength="19.8" lengthAdjust="spacingAndGlyphs" >-440</text>
<path d="M406.4,144.3v1.1M368.3,105.2h-1.1" stroke="#777" stroke-width="0.6" fill="none"/>
<text x="406.6" y="154.0" font-size="9.6" text-anchor="middle" font-weight="normal" textLength="19.8" lengthAdjust="spacingAndGlyphs" >-220</text>
<text x="366.0" y="108.8" font-size="9.6" text-anchor="end" font-weight="normal" textLength="19.8" lengthAdjust="spacingAndGlyphs" >-220</text>
<path d="M431.6,144.3v1.1M368.3,79.7h-1.1" stroke="#777" stroke-width="0.6" fill="none"/>
<text x="431.8" y="154.0" font-size="9.6" text-anchor="middle" font-weight="normal" textLength="5.5" lengthAdjust="spacingAndGlyphs" >0</text>
<text x="366.0" y="83.2" font-size="9.6" text-anchor="end" font-weight="normal" textLength="5.5" lengthAdjust="spacingAndGlyphs" >0</text>
<path d="M456.9,144.3v1.1M368.3,54.1h-1.1" stroke="#777" stroke-width="0.6" fill="none"/>
<text x="457.1" y="154.0" font-size="9.6" text-anchor="middle" font-weight="normal" textLength="16.5" lengthAdjust="spacingAndGlyphs" >220</text>
<text x="366.0" y="57.6" font-size="9.6" text-anchor="end" font-weight="normal" textLength="16.5" lengthAdjust="spacingAndGlyphs" >220</text>
<path d="M482.1,144.3v1.1M368.3,28.5h-1.1" stroke="#777" stroke-width="0.6" fill="none"/>
<text x="482.3" y="154.0" font-size="9.6" text-anchor="middle" font-weight="normal" textLength="16.5" lengthAdjust="spacingAndGlyphs" >440</text>
<text x="366.0" y="32.0" font-size="9.6" text-anchor="end" font-weight="normal" textLength="16.5" lengthAdjust="spacingAndGlyphs" >440</text>
<text x="431.0" y="163.4" font-size="9.1" text-anchor="middle" font-weight="normal" textLength="72.9" lengthAdjust="spacingAndGlyphs" word-spacing="0.6">Along track (km)</text>
<text transform="translate(343.0,80.0) rotate(-90)" font-size="9.1" word-spacing="0.6" text-anchor="middle" textLength="78.6" lengthAdjust="spacingAndGlyphs">Across track (km)</text>
<rect x="151.45" y="175.8" width="43.94" height="11.2" fill="#d6e2f0"/>
<rect x="195.09" y="175.8" width="43.94" height="11.2" fill="#8198fd"/>
<rect x="238.73" y="175.8" width="43.94" height="11.2" fill="#e8f4a0"/>
<rect x="282.37" y="175.8" width="43.94" height="11.2" fill="#fff814"/>
<rect x="326.01" y="175.8" width="43.94" height="11.2" fill="#ff4c00"/>
<path d="M369.6,175.8L380.2,181.40L369.6,187.0Z" fill="#ff4c00"/>
<path d="M151.45,175.8H369.6L380.2,181.40L369.6,187.0H151.45Z" fill="none" stroke="#000" stroke-opacity="0.42" stroke-width="0.7"/>
<path d="M151.4,187.0v1.3" stroke="#555" stroke-width="0.6"/>
<text x="151.8" y="196.6" font-size="9.1" text-anchor="middle" font-weight="normal" textLength="12.8" lengthAdjust="spacingAndGlyphs" >0.0</text>
<path d="M195.1,187.0v1.3" stroke="#555" stroke-width="0.6"/>
<text x="195.4" y="196.6" font-size="9.1" text-anchor="middle" font-weight="normal" textLength="12.8" lengthAdjust="spacingAndGlyphs" >2.4</text>
<path d="M238.7,187.0v1.3" stroke="#555" stroke-width="0.6"/>
<text x="239.0" y="196.6" font-size="9.1" text-anchor="middle" font-weight="normal" textLength="12.8" lengthAdjust="spacingAndGlyphs" >4.8</text>
<path d="M282.4,187.0v1.3" stroke="#555" stroke-width="0.6"/>
<text x="282.7" y="196.6" font-size="9.1" text-anchor="middle" font-weight="normal" textLength="12.8" lengthAdjust="spacingAndGlyphs" >7.2</text>
<path d="M326.0,187.0v1.3" stroke="#555" stroke-width="0.6"/>
<text x="326.3" y="196.6" font-size="9.1" text-anchor="middle" font-weight="normal" textLength="12.8" lengthAdjust="spacingAndGlyphs" >9.6</text>
<path d="M369.6,187.0v1.3" stroke="#555" stroke-width="0.6"/>
<text x="369.9" y="196.6" font-size="9.1" text-anchor="middle" font-weight="normal" textLength="18.1" lengthAdjust="spacingAndGlyphs" >12.0</text>
<text x="248.6" y="206.5" font-size="8.9" text-anchor="start" font-weight="normal" textLength="16.2" lengthAdjust="spacingAndGlyphs" >m s</text>
<text x="265.6" y="203.0" font-size="5.6" text-anchor="start" font-weight="normal" textLength="6.4" lengthAdjust="spacingAndGlyphs" >-1</text>
<rect x="37.5" y="211.4" width="456.4" height="98.7" fill="#fff" stroke="#000" stroke-opacity="0.42" stroke-width="0.8"/>
<path d="M37.5,308.3H493.9" stroke="#000" stroke-opacity="0.13" stroke-width="0.6" stroke-dasharray="1.5,0.8"/>
<path d="M37.5,308.3h-1.3" stroke="#555" stroke-width="0.6"/>
<text x="34.8" y="311.9" font-size="9.8" text-anchor="end" font-weight="normal" textLength="5.5" lengthAdjust="spacingAndGlyphs" >5</text>
<path d="M37.5,279.5H493.9" stroke="#000" stroke-opacity="0.13" stroke-width="0.6" stroke-dasharray="1.5,0.8"/>
<path d="M37.5,279.5h-1.3" stroke="#555" stroke-width="0.6"/>
<text x="34.8" y="283.1" font-size="9.8" text-anchor="end" font-weight="normal" textLength="10.9" lengthAdjust="spacingAndGlyphs" >10</text>
<path d="M37.5,250.8H493.9" stroke="#000" stroke-opacity="0.13" stroke-width="0.6" stroke-dasharray="1.5,0.8"/>
<path d="M37.5,250.8h-1.3" stroke="#555" stroke-width="0.6"/>
<text x="34.8" y="254.3" font-size="9.8" text-anchor="end" font-weight="normal" textLength="10.9" lengthAdjust="spacingAndGlyphs" >15</text>
<path d="M37.5,222.0H493.9" stroke="#000" stroke-opacity="0.13" stroke-width="0.6" stroke-dasharray="1.5,0.8"/>
<path d="M37.5,222.0h-1.3" stroke="#555" stroke-width="0.6"/>
<text x="34.8" y="225.5" font-size="9.8" text-anchor="end" font-weight="normal" textLength="10.9" lengthAdjust="spacingAndGlyphs" >20</text>
<text transform="translate(21.3,273.6) rotate(-90)" font-size="8.4" text-anchor="start" textLength="16.2" lengthAdjust="spacingAndGlyphs">m.s</text>
<text transform="translate(17.8,256.8) rotate(-90)" font-size="5.6" text-anchor="start" textLength="6.2" lengthAdjust="spacingAndGlyphs">-1</text>
<path d="M113.5,250.50V266.70M113.5,284.70V294.50M102.2,250.50H125.7M102.2,294.50H125.7" stroke="#2a2a2a" stroke-width="0.75" fill="none"/>
<rect x="91.1" y="266.70" width="45.7" height="18.00" fill="#1f77b4" fill-opacity="0.7" stroke="#000" stroke-opacity="0.55" stroke-width="0.6"/>
<path d="M91.1,276.10H136.8" stroke="#2a4864" stroke-width="1.25"/>
<path d="M113.00,239.80L114.00,239.80L114.35,250.50L112.65,250.50Z" fill="#111"/>
<path d="M112.70,294.50L114.30,294.50L114.10,306.00L112.90,306.00Z" fill="#111"/>
<circle cx="113.5" cy="232.40" r="0.65" fill="#222"/>
<circle cx="113.5" cy="235.50" r="0.65" fill="#222"/>
<circle cx="113.5" cy="236.90" r="0.65" fill="#222"/>
<circle cx="113.5" cy="238.00" r="0.65" fill="#222"/>
<circle cx="113.5" cy="239.00" r="0.65" fill="#222"/>
<path d="M113.5,310.1v1.3" stroke="#555" stroke-width="0.6"/>
<text x="113.9" y="319.5" font-size="9.5" text-anchor="middle" font-weight="normal" textLength="25.6" lengthAdjust="spacingAndGlyphs" >WETC</text>
<path d="M265.5,241.50V253.40M265.5,268.80V279.50M254.2,241.50H277.7M254.2,279.50H277.7" stroke="#2a2a2a" stroke-width="0.75" fill="none"/>
<rect x="243.0" y="253.40" width="46.0" height="15.40" fill="#0000ff" fill-opacity="0.7" stroke="#000" stroke-opacity="0.55" stroke-width="0.6"/>
<path d="M243.0,259.50H289.0" stroke="#14144a" stroke-width="1.25"/>
<path d="M265.00,237.40L266.00,237.40L266.35,241.50L264.65,241.50Z" fill="#111"/>
<path d="M264.70,279.50L266.30,279.50L266.10,283.10L264.90,283.10Z" fill="#111"/>
<circle cx="265.5" cy="229.30" r="0.65" fill="#222"/>
<circle cx="265.5" cy="231.00" r="0.65" fill="#222"/>
<circle cx="265.5" cy="234.60" r="0.65" fill="#222"/>
<circle cx="265.5" cy="236.00" r="0.65" fill="#222"/>
<circle cx="265.5" cy="292.80" r="0.65" fill="#222"/>
<path d="M265.5,310.1v1.3" stroke="#555" stroke-width="0.6"/>
<text x="265.9" y="319.5" font-size="9.5" text-anchor="middle" font-weight="normal" textLength="22.9" lengthAdjust="spacingAndGlyphs" >SETC</text>
<path d="M418.5,238.50V249.40M418.5,267.00V286.50M407.2,238.50H430.7M407.2,286.50H430.7" stroke="#2a2a2a" stroke-width="0.75" fill="none"/>
<rect x="395.4" y="249.40" width="46.2" height="17.60" fill="#d62728" fill-opacity="0.7" stroke="#000" stroke-opacity="0.55" stroke-width="0.6"/>
<path d="M395.4,258.00H441.6" stroke="#7a2427" stroke-width="1.25"/>
<path d="M418.00,232.60L419.00,232.60L419.35,238.50L417.65,238.50Z" fill="#111"/>
<path d="M417.70,286.50L419.30,286.50L419.10,288.00L417.90,288.00Z" fill="#111"/>
<circle cx="418.5" cy="215.90" r="0.65" fill="#222"/>
<circle cx="418.5" cy="231.80" r="0.65" fill="#222"/>
<circle cx="418.5" cy="292.60" r="0.65" fill="#222"/>
<circle cx="418.5" cy="295.40" r="0.65" fill="#222"/>
<circle cx="418.5" cy="297.40" r="0.65" fill="#222"/>
<circle cx="418.5" cy="299.00" r="0.65" fill="#222"/>
<circle cx="418.5" cy="302.00" r="0.65" fill="#222"/>
<path d="M418.5,310.1v1.3" stroke="#555" stroke-width="0.6"/>
<text x="418.4" y="319.5" font-size="9.5" text-anchor="middle" font-weight="normal" textLength="27.7" lengthAdjust="spacingAndGlyphs" >DWCC</text>
</svg>
</body></html>
